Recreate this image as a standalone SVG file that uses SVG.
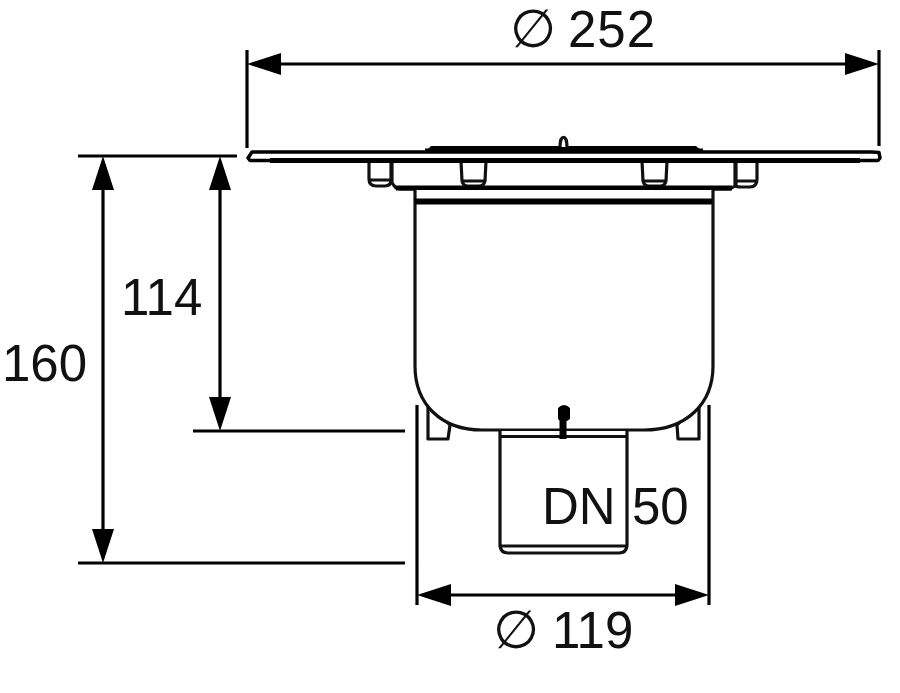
<svg xmlns="http://www.w3.org/2000/svg" width="900" height="693" viewBox="0 0 900 693">
<style>
.d{fill:none;stroke:#000;stroke-width:3.2}
.o{fill:none;stroke:#111;stroke-width:3.2;stroke-linejoin:round}
.w{fill:#fff;stroke:#111;stroke-width:3.2;stroke-linejoin:round}
.k{fill:#000;stroke:none}
text{font-family:"Liberation Sans",Arial,sans-serif;font-size:51px;fill:#111}
</style>
<defs>
<marker id="a" markerUnits="userSpaceOnUse" viewBox="0 0 34 24" refX="0" refY="12" markerWidth="34" markerHeight="24" orient="auto-start-reverse"><path d="M34 12L0 1V23Z" fill="#000"/></marker>
</defs>
<rect width="900" height="693" fill="#fff"/>
<g id="drain">
<path class="k" d="M425 152L431 146H696L703 152Z"/>
<path class="w" d="M560 147C560 134 567 134 567 147"/>
<g id="lugs">
<path class="w" d="M369 161V179Q369 186 376 186H385Q391 186 391 180V161M370 180H390"/>
<path class="w" d="M461 161L462 181Q463 186 468 186H479Q484 186 485 181L486 161M463 181H484"/>
<path class="w" d="M642 161L643 181Q644 186 649 186H660Q665 186 666 181L667 161M644 181H665"/>
<path class="w" d="M736 161V186Q737 187 741 187H750Q757 187 757 179V161M737 181H756"/>
</g>
<path class="o" d="M392 161V183L396 188L400 189H730L735 186V161"/>
<path d="M396 188H732" stroke="#000" stroke-width="5"/>
<path id="flange" d="M248 158L252 152H872L879 152.500L880 158L878 160.500H250Z" fill="#fff" stroke="#000" stroke-width="3.500" stroke-linejoin="round"/>
<path d="M270 160.500H860" stroke="#000" stroke-width="5"/>
<path d="M425 150.500H703" stroke="#000" stroke-width="4"/>
<g id="feet">
<path class="w" d="M428 400V439H448L450 425M428 402L450 425M434 402L452 423"/>
<path class="w" d="M699 400V439H678L677 425M699 402L677 425M693 402L675 423"/>
</g>
<path id="body" class="w" d="M415 190V366C415 404 441 430 482 430H644C686 430 713 404 713 366V190"/>
<path d="M415 201.500H712" stroke="#000" stroke-width="6"/>
<path id="pipe" class="w" d="M500 431V546Q501 553 508 553H619Q626 553 627 546V431"/>
<path class="o" d="M500 436.500H627M500 546H627"/>
<path id="pin" d="M563 408V439" stroke="#000" stroke-width="7" fill="none"/>
<path class="k" d="M558 408Q564 402 570 408V419L567 421H560L558 419Z"/>
</g>
<g id="connectors">
<path class="d" d="M247 50V148M879 50V146M78 156H237M193 431H405M78 563H405M417 405V605M709 405V605"/>
<path class="d" d="M281 64H845" marker-start="url(#a)" marker-end="url(#a)"/>
<path class="d" d="M103 190V529" marker-start="url(#a)" marker-end="url(#a)"/>
<path class="d" d="M220 190V397" marker-start="url(#a)" marker-end="url(#a)"/>
<path class="d" d="M451 595H675" marker-start="url(#a)" marker-end="url(#a)"/>
</g>
<g id="labels">
<text x="510" y="47" style="font-size:53px">∅</text><text x="568" y="47" textLength="87">252</text>
<text x="121" y="315">114</text>
<text x="2" y="381">160</text>
<text x="493" y="648" style="font-size:53px">∅</text><text x="552" y="648">119</text>
<text x="542" y="524">DN</text><text x="632" y="524">50</text>
</g>
</svg>
